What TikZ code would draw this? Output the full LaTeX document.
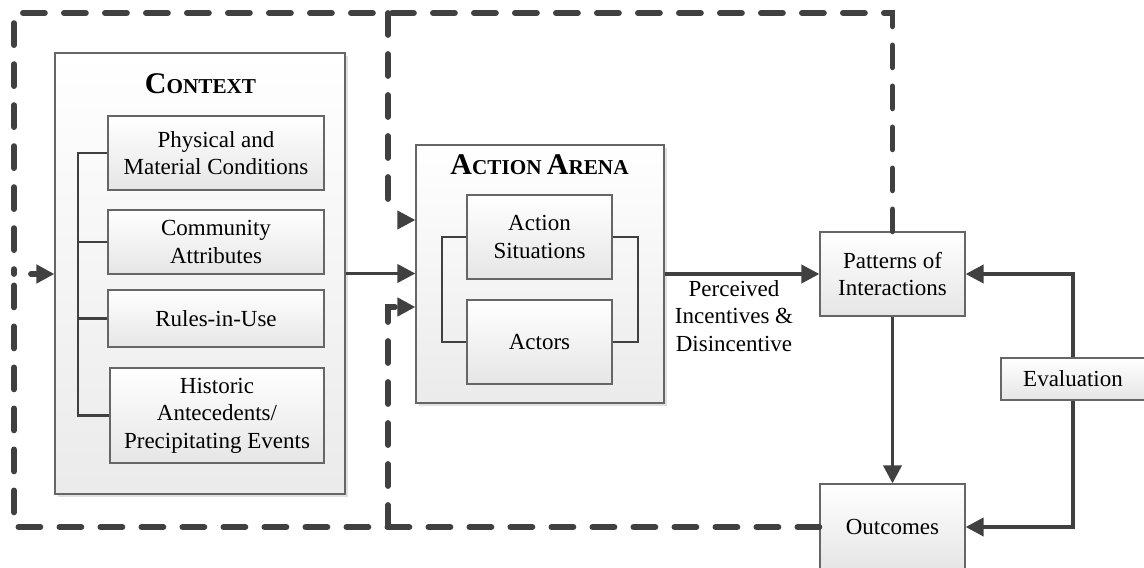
\documentclass[tikz,border=0pt]{standalone}
\usepackage{fontspec}
\setmainfont{Liberation Serif}
\usetikzlibrary{arrows.meta,shadows}
\definecolor{ln}{HTML}{404040}
\definecolor{bd}{HTML}{666666}
\newcommand\fs{\fontsize{11.5pt}{13.7pt}\selectfont}
\newcommand\bigc{\fontsize{15pt}{18pt}\selectfont}
\newcommand\smc{\fontsize{10.6pt}{12pt}\selectfont}
\begin{document}
\begin{tikzpicture}[x=0.5pt,y=-0.5pt,
  box/.style={draw=bd,line width=0.6pt,top color=white,bottom color=black!10,align=center,inner sep=0pt,font=\fs},
  bigbox/.style={box,top color=white,bottom color=black!8,drop shadow={shadow xshift=1.5pt,shadow yshift=-1.5pt,fill=black!12,opacity=1}},
  arr/.style={draw=ln,line width=1.9pt,-{Triangle[length=9pt,width=9pt]},fill=none},
  tiponly/.style={draw=ln,line width=1.9pt,-{Triangle[length=9pt,width=9pt]}},
  brk/.style={draw=ln,line width=1.3pt},
  dsh/.style={draw=ln,line width=2.9pt,line cap=round,dash pattern=on 11pt off 9.5pt},
  title/.style={anchor=base,font=\bfseries,inner sep=0pt}]
\useasboundingbox (0,0) rectangle (1144,567);

% coordinates for free ends and bends
\coordinate (tl) at (14,13);
\coordinate (bl) at (14,527);
\coordinate (tm) at (388,13);
\coordinate (bm) at (388,527);
\coordinate (m1) at (388,217);
\coordinate (m2) at (388,307);
\coordinate (a1) at (398,220);
\coordinate (la) at (14,274);
\coordinate (bxl) at (78,0);
\coordinate (abl) at (442,0);
\coordinate (abr) at (638,0);

% context
\node[bigbox,minimum width=145pt,minimum height=220.5pt] (context) at (200,273.5) {};
\node[title] (ctitle) at (200.5,94) {\bigc C\smc ONTEXT};
\node[box,minimum width=108pt,minimum height=37pt] (phys) at (216,153) {Physical and\\Material Conditions};
\node[box,minimum width=108pt,minimum height=32pt] (comm) at (216,242) {Community\\Attributes};
\node[box,minimum width=108pt,minimum height=28.5pt] (rules) at (216,318.5) {Rules-in-Use};
\node[box,minimum width=107pt,minimum height=47.5pt] (hist) at (217,415.5) {Historic\\Antecedents/\\Precipitating Events};

% action arena
\node[bigbox,minimum width=124pt,minimum height=129pt] (arena) at (540,274) {};
\node[title] (atitle) at (539.5,174) {\bigc A\smc CTION \bigc A\smc RENA};
\node[box,minimum width=72.5pt,minimum height=42pt] (sit) at (539.5,237) {Action\\Situations};
\node[box,minimum width=72.5pt,minimum height=42pt] (actors) at (539.5,342) {Actors};

% right side
\node[box,minimum width=72.5pt,minimum height=42pt] (patterns) at (892.5,274) {Patterns of\\Interactions};
\node[box,minimum width=72.5pt,minimum height=43pt] (outcomes) at (892.5,527) {Outcomes};
\node[box,minimum width=72pt,minimum height=21pt] (eval) at (1073,379) {Evaluation};
\node[font=\fs,align=center,inner sep=0pt] (perc) at (734,316) {Perceived\\Incentives \&\\Disincentive};

% brackets
\draw[brk] (phys.west) -- (phys.west -| bxl) -- (hist.west -| bxl) -- (hist.west);
\draw[brk] (comm.west) -- (comm.west -| bxl);
\draw[brk] (rules.west) -- (rules.west -| bxl);
\draw[brk] (sit.west) -- (sit.west -| abl) -- (actors.west -| abl) -- (actors.west);
\draw[brk] (sit.east) -- (sit.east -| abr) -- (actors.east -| abr) -- (actors.east);

% connectors
\draw[arr] (context.east) -- (context.east -| arena.west);
\draw[arr] (arena.east) -- (patterns.west);
\draw[arr] (patterns.south) -- (outcomes.north);
\draw[arr] (eval.north) |- (patterns.east);
\draw[arr] (eval.south) |- (outcomes.east);

% dashed feedback
\draw[dsh] (patterns.north) -- (patterns.north |- tl) -- (tl) -- (la);
\draw[dsh] (outcomes.west) -- (bl) -- (la);
\draw[dsh] (tm) -- (m1);
\draw[tiponly] (a1) -- (a1 -| arena.west);
\draw[dsh,-{Triangle[length=9pt,width=9pt]}] (bm) -- (m2) -- (m2 -| arena.west);
\draw[dsh,dash phase=12pt,-{Triangle[length=9pt,width=9pt]}] (la) -- (la -| context.west);
\end{tikzpicture}
\end{document}
